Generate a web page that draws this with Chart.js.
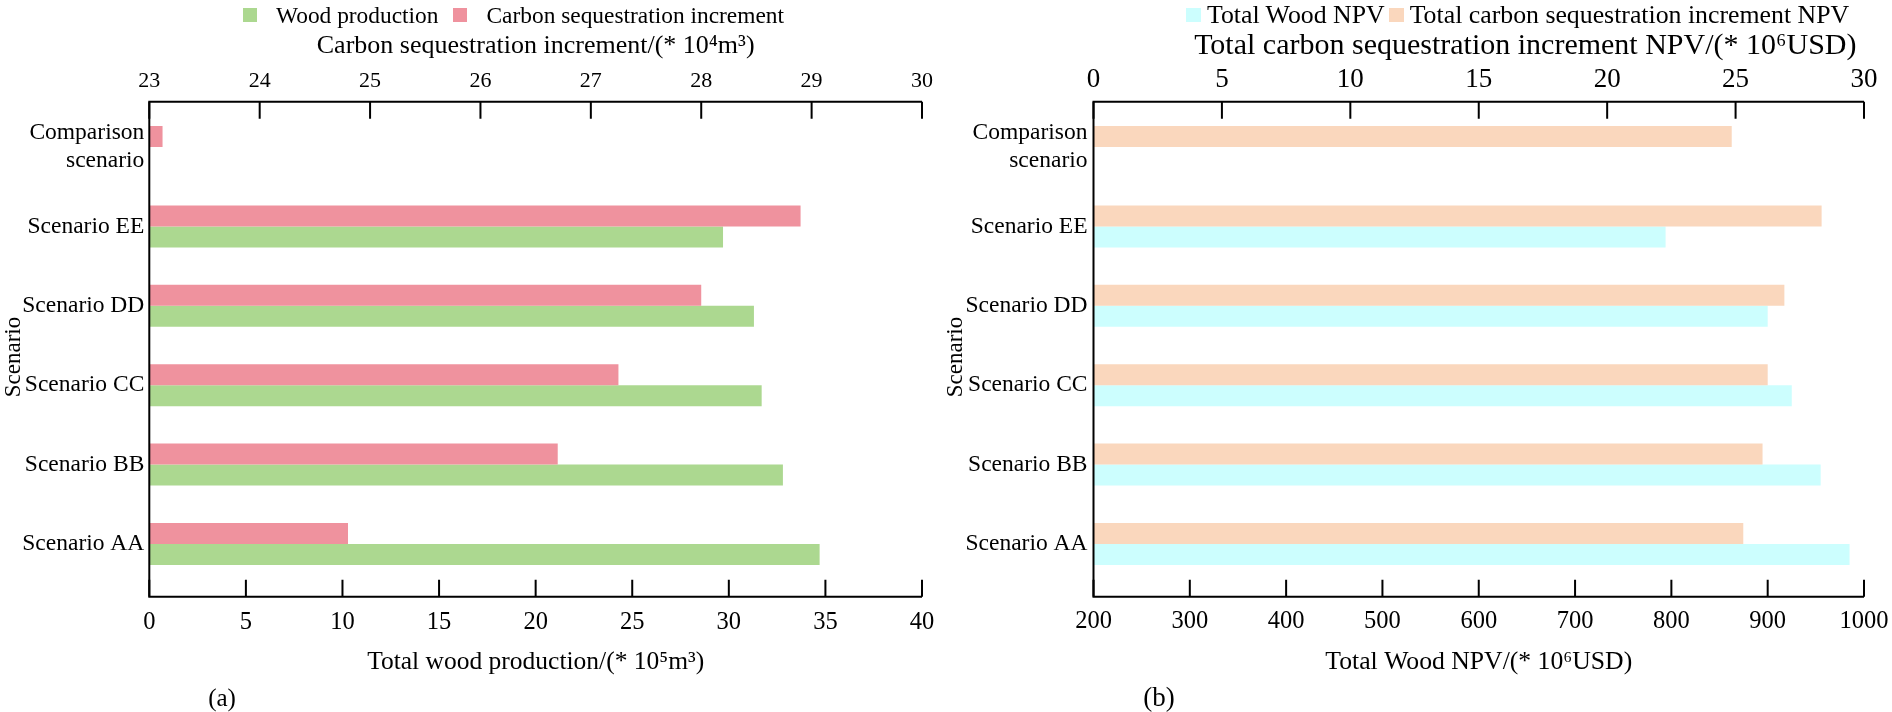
<!DOCTYPE html>
<html>
<head>
<meta charset="utf-8">
<script src="https://cdn.jsdelivr.net/npm/chart.js@4.4.1/dist/chart.umd.min.js"></script>
<style>
  html, body { margin: 0; padding: 0; background: #fff; }
  body { width: 1892px; height: 712px; position: relative; overflow: hidden;
         font-family: 'Liberation Serif', 'Times New Roman', serif; color: #000; }
  canvas { position: absolute; top: 0; }
  #chartA { left: 0; }
  #chartB { left: 940px; }
  .legend { position: absolute; display: flex; align-items: center; white-space: nowrap; line-height: 1; }
  .legend .box { display: inline-block; width: 14px; height: 14px; }
  .tag { position: absolute; transform: translate(-50%, -50%); line-height: 1; }
</style>
</head>
<body>
<canvas id="chartA" width="940" height="712"></canvas>
<canvas id="chartB" width="952" height="712"></canvas>
<div id="legendA" class="legend" style="left:243px; top:3.5px; font-size:23.4px;"></div>
<div id="legendB" class="legend" style="left:1186px; top:2px; font-size:25.8px;"></div>
<div class="tag" style="left:222px; top:697px; font-size:25px;">(a)</div>
<div class="tag" style="left:1159px; top:697px; font-size:27px;">(b)</div>

<script>
// ---- data ----
const categories = [['Comparison', 'scenario'], 'Scenario EE', 'Scenario DD', 'Scenario CC', 'Scenario BB', 'Scenario AA'];

// (a) wood production (10^5 m3, bottom axis) / carbon sequestration increment (10^4 m3, top axis)
const woodProduction = [null, 29.7, 31.3, 31.7, 32.8, 34.7];
const carbonIncrement = [23.12, 28.9, 28.0, 27.25, 26.7, 24.8];
const woodTicks = [0, 5, 10, 15, 20, 25, 30, 35, 40];
const carbonTicks = [23, 24, 25, 26, 27, 28, 29, 30];

// (b) total wood NPV (10^6 USD, bottom axis) / total carbon NPV (10^6 USD, top axis)
const woodNPV = [null, 794, 900, 925, 955, 985];
const carbonNPV = [24.85, 28.35, 26.9, 26.25, 26.05, 25.3];
const woodNpvTicks = [200, 300, 400, 500, 600, 700, 800, 900, 1000];
const carbonNpvTicks = [0, 5, 10, 15, 20, 25, 30];

const FONT = "'Liberation Serif', 'Times New Roman', serif";
const GREEN = '#acd890';
const PINK = '#ef929e';
const CYAN = '#ccfefe';
const PEACH = '#fad7bd';

const serif = (size, lineHeight = 1.2) => ({ family: FONT, size, lineHeight });

// axis lines sit a little outside the category bands, ticks point inwards
const axisFrame = {
  id: 'axisFrame',
  afterDraw(chart, args, opts) {
    const { ctx, chartArea: a, scales } = chart;
    const top = a.top - opts.above;
    const bottom = a.bottom + opts.below;
    ctx.save();
    ctx.strokeStyle = '#000';
    ctx.lineWidth = 2;
    ctx.beginPath();
    ctx.moveTo(a.right, top);
    ctx.lineTo(a.left, top);
    ctx.lineTo(a.left, bottom);
    ctx.lineTo(a.right, bottom);
    ctx.stroke();
    ctx.beginPath();
    scales.x.ticks.forEach(t => {
      const px = scales.x.getPixelForValue(t.value);
      ctx.moveTo(px, bottom);
      ctx.lineTo(px, bottom - opts.tick);
    });
    scales.x2.ticks.forEach(t => {
      const px = scales.x2.getPixelForValue(t.value);
      ctx.moveTo(px, top);
      ctx.lineTo(px, top + opts.tick);
    });
    ctx.stroke();
    ctx.restore();
  }
};

function valueAxis(p) {
  return {
    type: 'linear',
    position: p.position,
    min: p.ticks[0],
    max: p.ticks[p.ticks.length - 1],
    afterBuildTicks: s => { s.ticks = p.ticks.map(v => ({ value: v })); },
    grid: { display: true, drawOnChartArea: false, drawTicks: true, tickLength: p.gap, color: 'rgba(0,0,0,0)' },
    border: { display: false },
    ticks: { color: '#000', font: serif(p.tickSize), padding: 2, autoSkip: false, maxRotation: 0,
             callback: v => String(v) },
    title: {
      display: true, text: p.title, color: '#000', font: serif(p.titleSize), align: p.align || 'center',
      padding: p.position === 'top' ? { top: p.titlePad, bottom: 0 } : { top: 0, bottom: p.titlePad },
    },
    afterFit: s => { s.height = p.height; },
  };
}

function makePanel(id, p) {
  return new Chart(document.getElementById(id), {
    type: 'bar',
    data: {
      labels: categories,
      datasets: [
        { label: p.topLabel, data: p.topData, xAxisID: 'x2', backgroundColor: p.topColor },
        { label: p.bottomLabel, data: p.bottomData, xAxisID: 'x', backgroundColor: p.bottomColor },
      ],
    },
    options: {
      responsive: false,
      animation: false,
      devicePixelRatio: 1,
      indexAxis: 'y',
      datasets: { bar: { categoryPercentage: 0.529, barPercentage: 1, borderWidth: 0 } },
      layout: { padding: { left: 0, right: p.padRight, top: 0, bottom: 0 } },
      plugins: {
        legend: { display: false },
        tooltip: { enabled: false },
        axisFrame: { above: 5.6, below: 13, tick: 17 },
      },
      scales: {
        y: {
          type: 'category',
          position: 'left',
          grid: { display: false, drawTicks: false },
          border: { display: false },
          ticks: { color: '#000', font: serif(23.5, 1.2), padding: p.labelPad, autoSkip: false },
          // trailing spaces nudge the rotated title down to where the original sits
          title: { display: true, text: 'Scenario    ', color: '#000', font: serif(23),
                   padding: { top: p.yTitlePad, bottom: 0 } },
          afterFit: s => { s.width = p.yWidth; },
        },
        x: valueAxis(p.bottomAxis),
        x2: valueAxis(p.topAxis),
      },
    },
    plugins: [axisFrame],
  });
}

function htmlLegend(chart, el, order, p) {
  order.forEach((i, k) => {
    const ds = chart.data.datasets[i];
    const box = document.createElement('span');
    box.className = 'box';
    box.style.background = ds.backgroundColor;
    box.style.width = p.box + 'px';
    box.style.marginRight = p.textGap + 'px';
    const txt = document.createElement('span');
    txt.textContent = ds.label;
    if (k < order.length - 1) txt.style.marginRight = p.itemGap + 'px';
    el.appendChild(box);
    el.appendChild(txt);
  });
}

const chartA = makePanel('chartA', {
  topLabel: 'Carbon sequestration increment', topData: carbonIncrement, topColor: PINK,
  bottomLabel: 'Wood production', bottomData: woodProduction, bottomColor: GREEN,
  padRight: 18, yWidth: 149.3, yTitlePad: 0, labelPad: 5,
  bottomAxis: { position: 'bottom', ticks: woodTicks, gap: 22, tickSize: 24.5, height: 128.3,
                title: 'Total wood production/(* 10\u2075m\u00B3)', titleSize: 25.5, titlePad: 34.7 },
  topAxis: { position: 'top', ticks: carbonTicks, gap: 11, tickSize: 22, height: 107.3,
             title: 'Carbon sequestration increment/(* 10\u2074m\u00B3)', titleSize: 26, titlePad: 30.4 },
});

const chartB = makePanel('chartB', {
  topLabel: 'Total carbon sequestration increment NPV', topData: carbonNPV, topColor: PEACH,
  bottomLabel: 'Total Wood NPV', bottomData: woodNPV, bottomColor: CYAN,
  padRight: 28, yWidth: 153.5, yTitlePad: 2.2, labelPad: 6,
  bottomAxis: { position: 'bottom', ticks: woodNpvTicks, gap: 21.6, tickSize: 24.5, height: 128.3,
                title: 'Total Wood NPV/(* 10\u2076USD)', titleSize: 25.7, titlePad: 34.6 },
  topAxis: { position: 'top', ticks: carbonNpvTicks, gap: 9.6, tickSize: 27, height: 107.3, align: 'end',
             title: 'Total carbon sequestration increment NPV/(* 10\u2076USD) ', titleSize: 30, titlePad: 28 },
});

htmlLegend(chartA, document.getElementById('legendA'), [1, 0], { box: 14, textGap: 19, itemGap: 15 });
htmlLegend(chartB, document.getElementById('legendB'), [1, 0], { box: 15, textGap: 6, itemGap: 4 });
</script>
</body>
</html>
